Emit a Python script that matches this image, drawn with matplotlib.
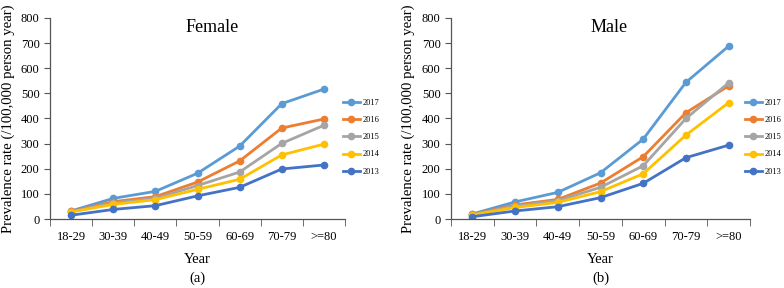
import matplotlib
matplotlib.use('Agg')
import matplotlib.pyplot as plt

plt.rcParams['font.family'] = ['Liberation Serif', 'DejaVu Serif']

ages = ['18-29', '30-39', '40-49', '50-59', '60-69', '70-79', '>=80']
years = ['2017', '2016', '2015', '2014', '2013']
colors = ['#5B9BD5', '#ED7D31', '#A5A5A5', '#FFC000', '#4472C4']

# female prevalence per year
female_2017 = [32, 82, 110, 182, 290, 459, 517]
female_2016 = [30, 69, 89, 147, 231, 362, 398]
female_2015 = [29, 64, 82, 133, 187, 301, 373]
female_2014 = [28, 58, 77, 118, 158, 255, 298]
female_2013 = [15, 38, 53, 92, 126, 199, 215]

# male prevalence per year
male_2017 = [20, 68, 106, 184, 318, 544, 688]
male_2016 = [18, 56, 78, 143, 248, 423, 530]
male_2015 = [17, 52, 73, 126, 212, 400, 542]
male_2014 = [16, 46, 66, 109, 180, 334, 463]
male_2013 = [9, 32, 49, 85, 142, 244, 294]

female = [female_2017, female_2016, female_2015, female_2014, female_2013]
male = [male_2017, male_2016, male_2015, male_2014, male_2013]

fig = plt.figure(figsize=(7.84, 2.88), dpi=100)
ax1 = fig.add_axes([50/784, 69/288, 295/784, 201/288])
ax2 = fig.add_axes([451/784, 69/288, 299/784, 201/288])


def drawPanel(ax, data, title, title_x, letter, label_x, leg_x):
    x = list(range(len(ages)))
    lines = []
    for vals, yr, c in zip(data, years, colors):
        ln, = ax.plot(x, vals, color=c, lw=2.0, marker='o', markersize=4.5, label=yr)
        lines.append(ln)
    ax.set_xlim(-0.5, 6.5)
    ax.set_ylim(0, 800)
    ax.set_yticks(range(0, 801, 100))
    ax.set_xticks(x)
    ax.set_xticklabels(ages)
    ax.set_xticks([i - 0.5 for i in range(8)], minor=True)
    ax.tick_params(axis='x', which='major', length=0, labelsize=9, pad=9)
    ax.tick_params(axis='x', which='minor', length=5, direction='out', color='#555555')
    ax.tick_params(axis='y', length=4, direction='out', labelsize=9, color='#555555')
    for s in ['top', 'right']:
        ax.spines[s].set_visible(False)
    for s in ['left', 'bottom']:
        ax.spines[s].set_color('#555555')
        ax.spines[s].set_linewidth(0.9)
    ax.text(title_x, 0.955, title, transform=ax.transAxes, ha='center', va='center', fontsize=13)
    ax.set_ylabel('Prevalence rate (/100,000 person year)', fontsize=10.6)
    ax.yaxis.set_label_coords(label_x, 0.5)
    ax.set_xlabel('Year', fontsize=10.5)
    ax.xaxis.set_label_coords(0.5, -0.17)
    pos = ax.get_position()
    fig.text(pos.x0 + pos.width / 2, 0.035, letter, ha='center', va='center', fontsize=10.5)
    fig.legend(handles=lines, loc='upper left', bbox_to_anchor=(leg_x, 1 - 99/288),
               frameon=False, fontsize=6, handlelength=2.0, handletextpad=0.3,
               labelspacing=1.1, borderpad=0, borderaxespad=0)


drawPanel(ax1, female, 'Female', 0.55, '(a)', -0.12, 343/784)
drawPanel(ax2, male, 'Male', 0.53, '(b)', -0.12, 745/784)

fig.savefig('out.png', dpi=100)
